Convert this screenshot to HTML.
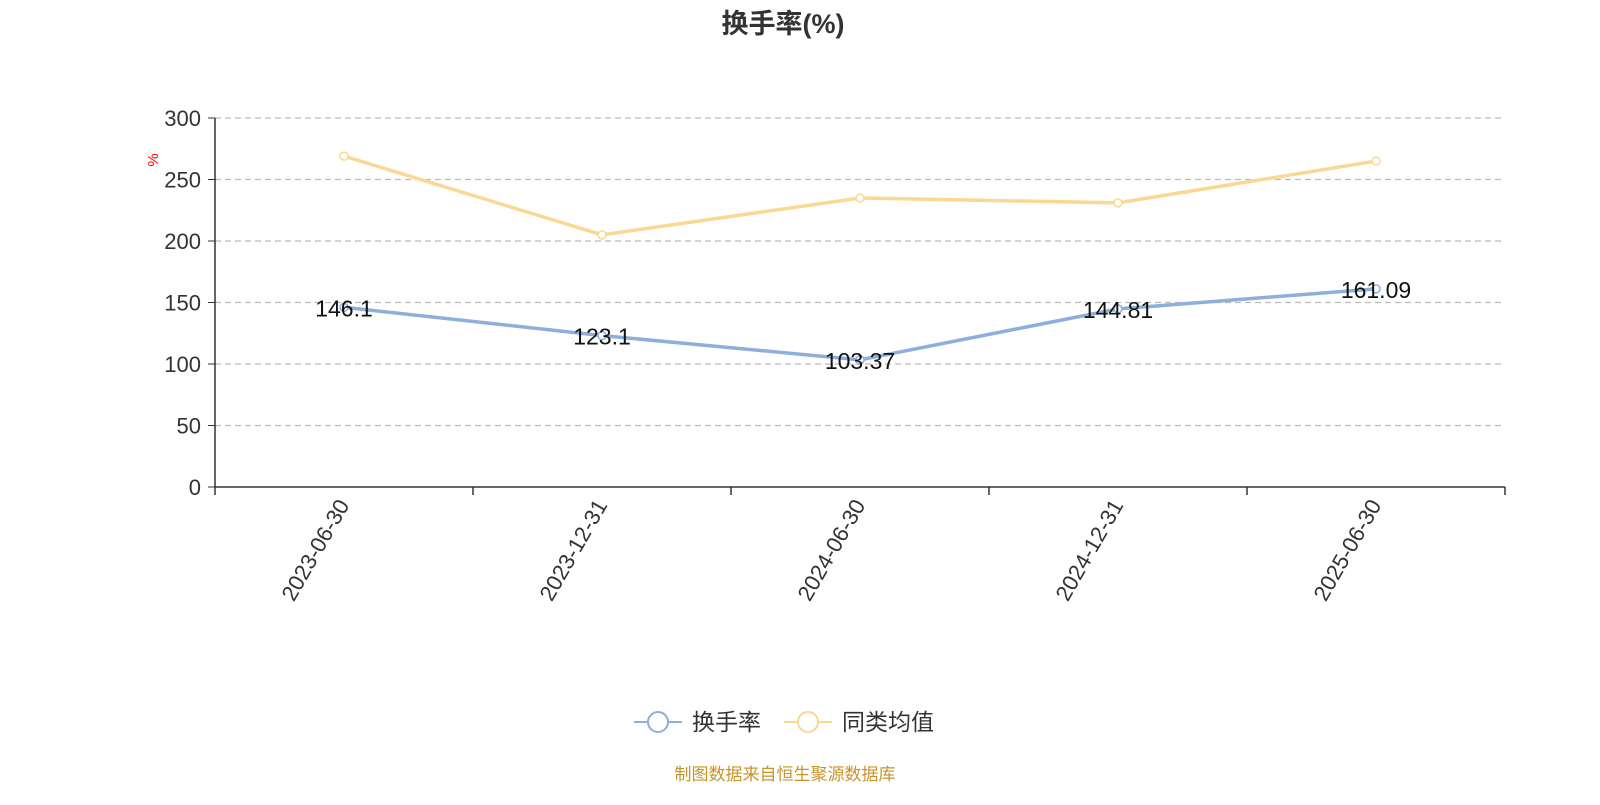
<!DOCTYPE html>
<html><head><meta charset="utf-8"><style>
body{margin:0;background:#fff;width:1600px;height:800px;overflow:hidden}
svg{font-family:"Liberation Sans","Noto Sans CJK SC",sans-serif}
</style></head><body>
<svg id="chart" width="1600" height="800" xmlns="http://www.w3.org/2000/svg">
<text x="783" y="33" text-anchor="middle" font-size="27" font-weight="bold" fill="#333">换手率(%)</text>
<text x="158" y="160" font-size="15" fill="red" transform="rotate(-90 158 160)" text-anchor="middle">%</text>
<g id="grid"></g><g id="axes"></g><g id="series"></g>
<g>
<g>
<line x1="634" y1="722" x2="682" y2="722" stroke="#8eaedb" stroke-width="2"/>
<circle cx="658" cy="722" r="10" fill="#fff" stroke="#8eaedb" stroke-width="2"/>
<text x="692" y="730" font-size="23" fill="#333">换手率</text></g>
<g>
<line x1="784" y1="722" x2="832" y2="722" stroke="#fbd892" stroke-width="2"/>
<circle cx="808" cy="722" r="10" fill="#fff" stroke="#fbd892" stroke-width="2"/>
<text x="842" y="730" font-size="23" fill="#333">同类均值</text></g>
</g>
<text x="785" y="780" text-anchor="middle" font-size="17" fill="#c8942a">制图数据来自恒生聚源数据库</text>
</svg>
<script>
const categories=["2023-06-30","2023-12-31","2024-06-30","2024-12-31","2025-06-30"];
const turnover=[146.1,123.1,103.37,144.81,161.09];
const turnoverLabels=["146.1","123.1","103.37","144.81","161.09"];
const peerAvg=[269,205,235,231,265];
const yTicks=[0,50,100,150,200,250,300];
const NS="http://www.w3.org/2000/svg";
const L=215,R=1505,T=118,B=487,yMax=300;
const bw=(R-L)/categories.length;
const xS=i=>L+bw*(i+0.5);
const yS=v=>B-(v/yMax)*(B-T);
function mk(tag,attrs,parent,txt){const e=document.createElementNS(NS,tag);for(const k in attrs)e.setAttribute(k,attrs[k]);if(txt!==undefined)e.textContent=txt;document.getElementById(parent).appendChild(e);return e;}
yTicks.forEach(t=>{
 if(t>0){const g=mk('line',{x1:L,x2:R,y1:yS(t),y2:yS(t),stroke:'#bbb','stroke-dasharray':'6,4','stroke-width':1.2},'grid');
 
 }
 const tk=mk('line',{x1:L-7,x2:L,y1:yS(t),y2:yS(t),stroke:'#333'},'axes');
 
 
 const lb=mk('text',{x:L-14,y:yS(t)+8,'text-anchor':'end','font-size':22,fill:'#333'},'axes',String(t));
 
 
});
const ya=mk('line',{x1:L,x2:L,y1:T,y2:B,stroke:'#333','stroke-width':1.5},'axes');


const xa=mk('line',{x1:L,x2:R,y1:B,y2:B,stroke:'#333','stroke-width':1.5},'axes');


for(let i=0;i<=categories.length;i++){
 const t=mk('line',{x1:L+bw*i,x2:L+bw*i,y1:B,y2:B+8,stroke:'#333','stroke-width':1.5},'axes');
 
 
}
categories.forEach((c,i)=>{
 const x=xS(i)+6,y=B+18;
 const t=mk('text',{x:x,y:y,'text-anchor':'end','font-size':22,fill:'#333',transform:`rotate(-60 ${x} ${y})`},'axes',c);
 
 
});
function series(vals,color,name){
 const p=mk('polyline',{points:vals.map((v,i)=>xS(i)+','+yS(v)).join(' '),fill:'none',stroke:color,'stroke-width':3.5},'series');
 
 
 vals.forEach((v,i)=>{
  const c=mk('circle',{cx:xS(i),cy:yS(v),r:4,fill:'#fff',stroke:color,'stroke-width':1.5},'series');
  
  
 });
}
series(peerAvg,'#fbd892','peer-average');
series(turnover,'#8eaedb','turnover');
turnover.forEach((v,i)=>{
 const t=mk('text',{x:xS(i),y:yS(v)+9,'text-anchor':'middle','font-size':23,fill:'#111'},'series',turnoverLabels[i]);
 
 
});
</script>
</body></html>
